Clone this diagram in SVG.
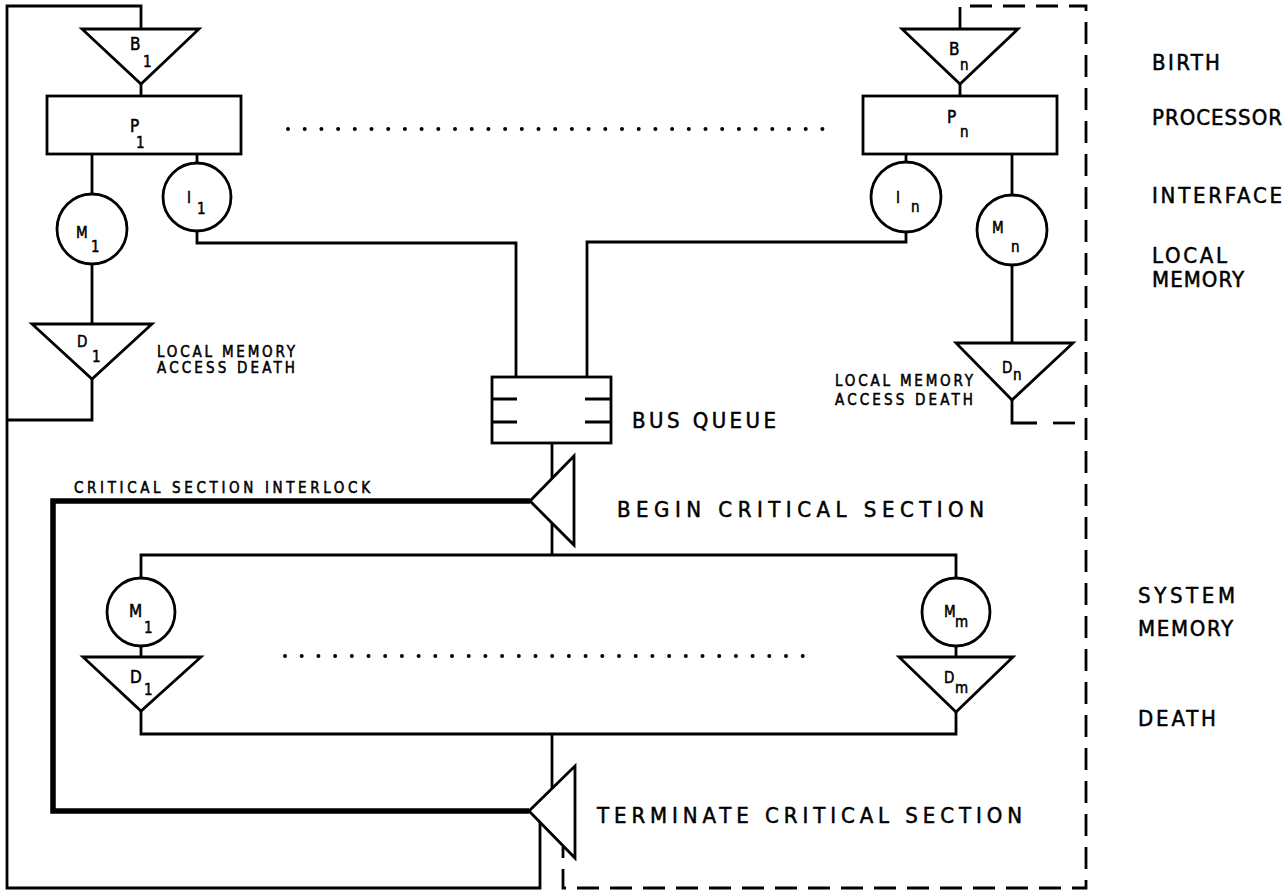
<svg xmlns="http://www.w3.org/2000/svg" width="1287" height="895" viewBox="0 0 1287 895">
<style>
.ln{fill:none;stroke:#000;stroke-width:2.8;stroke-linejoin:miter}
.thk{stroke-width:5.5}
.dash{stroke-dasharray:22 11}
.dot{fill:none;stroke:#000;stroke-width:4;stroke-linecap:round;stroke-dasharray:0 16.7}
.sh{fill:#fff;stroke:#000;stroke-width:2.8}
.t{font-family:"DejaVu Sans Condensed","DejaVu Sans","Liberation Sans",sans-serif;fill:#000;stroke:#000;stroke-width:0.5}
.big{font-size:22px}
.sm{font-size:15px}
.in{font-size:17px}
.sub{font-size:15px}
</style>
<rect width="1287" height="895" fill="#fff"/>
<g id="connectors">
  <path class="ln" d="M141,29 V6 H7 V888 H540 V822"/>
  <path class="ln" d="M92,379 V420 H7"/>
  <path class="ln dash" d="M960,29 V6 H1086 V888 H563 V847"/>
  <path class="ln" d="M1012,400 V423 H1037"/>
  <path class="ln dash" d="M1053,423 H1086"/>
  <path class="ln" d="M141,84 V96"/>
  <path class="ln" d="M960,84 V96"/>
  <path class="ln" d="M92,154 V195"/>
  <path class="ln" d="M197,154 V163"/>
  <path class="ln" d="M92,264 V324"/>
  <path class="ln" d="M197,230 V243 H516 V377"/>
  <path class="ln" d="M906,154 V163"/>
  <path class="ln" d="M906,231 V242 H587 V377"/>
  <path class="ln" d="M1012,154 V195"/>
  <path class="ln" d="M1012,265 V343"/>
  <path class="ln" d="M552,443 V555"/>
  <path class="ln" d="M141,578 V555 H956 V578"/>
  <path class="ln" d="M141,646 V657"/>
  <path class="ln" d="M956,646 V657"/>
  <path class="ln" d="M141,711 V734 H956 V712"/>
  <path class="ln" d="M552,734 V792"/>
  <path class="ln thk" d="M530,501 H53 V811 H529"/>
  <path class="dot" d="M288,129 H824"/>
  <path class="dot" d="M285,656 H810"/>
</g>
<g id="B1"><polygon class="sh" points="82,29 199,29 141,84"/><text class="t in" x="130" y="50">B</text><text class="t sub" x="143" y="67">1</text></g>
<g id="P1"><rect class="sh" x="47" y="96" width="194" height="58"/><text class="t in" x="130" y="132">P</text><text class="t sub" x="136" y="148">1</text></g>
<g id="M1local"><circle class="sh" cx="92" cy="229" r="35"/><text class="t sm" x="76" y="238">M</text><text class="t sub" x="91" y="252">1</text></g>
<g id="I1"><circle class="sh" cx="197" cy="197" r="34"/><text class="t sm" x="187" y="203">I</text><text class="t sub" x="197" y="214">1</text></g>
<g id="D1local"><polygon class="sh" points="32,324 152,324 92,379"/><text class="t sm" x="77" y="347">D</text><text class="t sub" x="92" y="362">1</text></g>
<g id="Bn"><polygon class="sh" points="902,29 1018,29 960,84"/><text class="t in" x="949" y="55">B</text><text class="t sub" x="960" y="70">n</text></g>
<g id="Pn"><rect class="sh" x="863" y="96" width="194" height="58"/><text class="t in" x="947" y="123">P</text><text class="t sub" x="960" y="137">n</text></g>
<g id="In"><circle class="sh" cx="906" cy="197" r="35"/><text class="t sm" x="896" y="203">I</text><text class="t sub" x="911" y="212">n</text></g>
<g id="Mn"><circle class="sh" cx="1012" cy="230" r="35"/><text class="t sm" x="992" y="233">M</text><text class="t sub" x="1011" y="252">n</text></g>
<g id="Dn"><polygon class="sh" points="956,343 1073,343 1012,400"/><text class="t sm" x="1002" y="373">D</text><text class="t sub" x="1013" y="380">n</text></g>
<g id="busqueue"><rect class="sh" x="492" y="377" width="119" height="66"/><path class="ln" d="M492,399 H517 M492,422 H517 M585,399 H611 M585,422 H611"/><text class="t big" x="632" y="428" textLength="144" lengthAdjust="spacing">BUS QUEUE</text></g>
<g id="begin"><polygon class="sh" points="530,501 574,456 574,545"/><text class="t big" x="617" y="517" textLength="367" lengthAdjust="spacing">BEGIN CRITICAL SECTION</text></g>
<g id="terminate"><polygon class="sh" points="529,811 575,766 575,858"/><text class="t big" x="597" y="823" textLength="425" lengthAdjust="spacing">TERMINATE CRITICAL SECTION</text></g>
<g id="M1sys"><circle class="sh" cx="141" cy="612" r="34"/><text class="t in" x="129" y="617">M</text><text class="t sub" x="144" y="633">1</text></g>
<g id="D1sys"><polygon class="sh" points="83,657 201,657 141,711"/><text class="t in" x="130" y="683">D</text><text class="t sub" x="144" y="695">1</text></g>
<g id="Mm"><circle class="sh" cx="956" cy="612" r="34"/><text class="t sm" x="944" y="617">M</text><text class="t sub" x="955" y="627">m</text></g>
<g id="Dm"><polygon class="sh" points="899,657 1013,657 956,712"/><text class="t sm" x="944" y="683">D</text><text class="t sub" x="955" y="693">m</text></g>
<g id="labels">
  <text class="t sm" x="157" y="357" textLength="138" lengthAdjust="spacing">LOCAL MEMORY</text>
  <text class="t sm" x="157" y="373" textLength="138" lengthAdjust="spacing">ACCESS DEATH</text>
  <text class="t sm" x="835" y="386" textLength="138" lengthAdjust="spacing">LOCAL MEMORY</text>
  <text class="t sm" x="835" y="405" textLength="138" lengthAdjust="spacing">ACCESS DEATH</text>
  <text class="t sm" x="74" y="493" textLength="296" lengthAdjust="spacing">CRITICAL SECTION INTERLOCK</text>
  <text class="t big" x="1152" y="70" textLength="68" lengthAdjust="spacing">BIRTH</text>
  <text class="t big" x="1152" y="125" textLength="130" lengthAdjust="spacing">PROCESSOR</text>
  <text class="t big" x="1152" y="203" textLength="130" lengthAdjust="spacing">INTERFACE</text>
  <text class="t big" x="1152" y="263" textLength="75" lengthAdjust="spacing">LOCAL</text>
  <text class="t big" x="1152" y="287" textLength="92" lengthAdjust="spacing">MEMORY</text>
  <text class="t big" x="1138" y="603" textLength="97" lengthAdjust="spacing">SYSTEM</text>
  <text class="t big" x="1138" y="636" textLength="95" lengthAdjust="spacing">MEMORY</text>
  <text class="t big" x="1138" y="726" textLength="78" lengthAdjust="spacing">DEATH</text>
</g>
</svg>
